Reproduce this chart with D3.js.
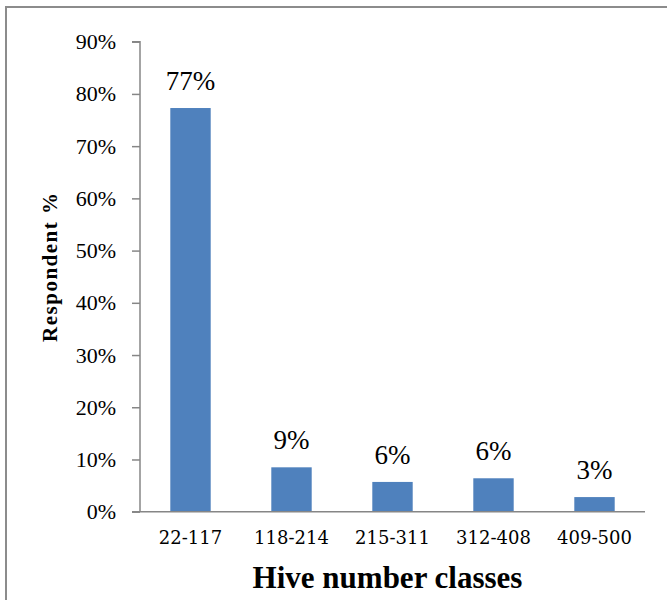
<!DOCTYPE html>
<html>
<head>
<meta charset="utf-8">
<script src="https://cdn.jsdelivr.net/npm/d3@7/dist/d3.min.js"></script>
<style>
  html, body { margin: 0; padding: 0; background: #fff; }
  svg { display: block; }
</style>
</head>
<body>
<svg id="chart" width="667" height="600"></svg>
<script>
// Hive number classes and the share of respondents in each
const categories = ["22-117", "118-214", "215-311", "312-408", "409-500"];
const respondentShare = [0.773, 0.085, 0.057, 0.064, 0.028];
const yTicks = [0, 0.1, 0.2, 0.3, 0.4, 0.5, 0.6, 0.7, 0.8, 0.9];
const xTitle = "Hive number classes";
const yTitle = "Respondent %";

const svg = d3.select("#chart");
const serif = "'Liberation Serif', 'Times New Roman', serif";
const labelSerif = "'DejaVu Serif', serif";

// outer frame
svg.append("rect")
  .attr("x", 6).attr("y", 7)
  .attr("width", 700).attr("height", 640)
  .attr("fill", "none")
  .attr("stroke", "#8c8c8c")
  .attr("stroke-width", 2);

const plot = { left: 140, right: 645, top: 41.7, bottom: 511.7 };

const x = d3.scaleBand()
  .domain(categories)
  .range([plot.left, plot.right])
  .paddingInner(0.6)
  .paddingOuter(0.3);

const y = d3.scaleLinear()
  .domain([0, 0.9])
  .range([plot.bottom, plot.top]);

// y axis
const yAxis = svg.append("g")
  .attr("transform", `translate(${plot.left},0)`)
  .call(d3.axisLeft(y).tickValues(yTicks).tickFormat(d3.format(".0%")).tickSize(8).tickPadding(16));
yAxis.select(".domain").attr("stroke", "#868686").attr("stroke-width", 1.5)
  .attr("d", `M-8,${y(0.9)}H0V${y(0)}`);
yAxis.selectAll(".tick line").attr("stroke", "#868686").attr("stroke-width", 1.5);
yAxis.selectAll(".tick text")
  .attr("fill", "#000")
  .style("font-family", serif)
  .style("font-size", "22px");

// bars
svg.append("g").selectAll("rect")
  .data(categories)
  .join("rect")
  .attr("x", d => x(d))
  .attr("width", x.bandwidth())
  .attr("y", (d, i) => y(respondentShare[i]))
  .attr("height", (d, i) => y(0) - y(respondentShare[i]))
  .attr("fill", "#4f81bd");

// value labels
svg.append("g").selectAll("text")
  .data(categories)
  .join("text")
  .attr("x", d => x(d) + x.bandwidth() / 2)
  .attr("y", (d, i) => y(respondentShare[i]) - 18)
  .attr("text-anchor", "middle")
  .style("font-family", serif)
  .style("font-size", "27px")
  .attr("fill", "#000")
  .text((d, i) => Math.round(respondentShare[i] * 100) + "%");

// x axis
const xAxis = svg.append("g")
  .attr("transform", `translate(0,${plot.bottom})`)
  .call(d3.axisBottom(x).tickSize(0).tickPadding(20));
xAxis.select(".domain").attr("stroke", "#868686").attr("stroke-width", 1.5)
  .attr("d", `M${plot.left - 8},0H${plot.right}`);
xAxis.selectAll(".tick text")
  .attr("fill", "#000")
  .style("font-family", labelSerif)
  .style("font-size", "18px");

// axis titles
svg.append("text")
  .attr("x", (plot.left + plot.right) / 2 - 5)
  .attr("y", 588)
  .attr("text-anchor", "middle")
  .style("font-family", serif)
  .style("font-weight", "bold")
  .style("font-size", "31px")
  .text(xTitle);

svg.append("text")
  .attr("transform", `translate(57,${(plot.top + plot.bottom) / 2 - 10}) rotate(-90)`)
  .attr("text-anchor", "middle")
  .style("font-family", serif)
  .style("font-weight", "bold")
  .style("font-size", "21px")
  .style("letter-spacing", "1.5px")
  .text(yTitle);
</script>
</body>
</html>
